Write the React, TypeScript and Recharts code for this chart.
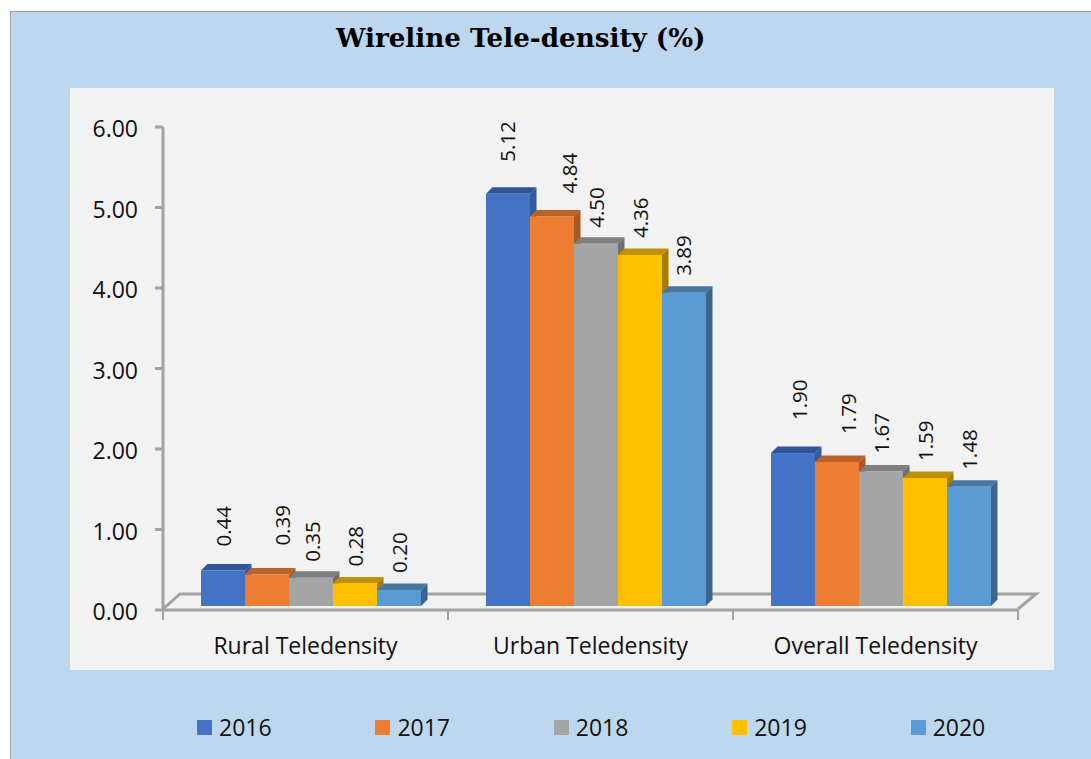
import { Bar, BarChart, LabelList, Legend, XAxis, YAxis } from "recharts";

const categories = ["Rural Teledensity", "Urban Teledensity", "Overall Teledensity"];
const years = ["2016", "2017", "2018", "2019", "2020"];
const values2016 = [0.44, 5.12, 1.9];
const values2017 = [0.39, 4.84, 1.79];
const values2018 = [0.35, 4.5, 1.67];
const values2019 = [0.28, 4.36, 1.59];
const values2020 = [0.2, 3.89, 1.48];
const yTicks = [0, 1, 2, 3, 4, 5, 6];

const seriesValues = [values2016, values2017, values2018, values2019, values2020];

const data = categories.map((name, i) => {
  const row: Record<string, string | number> = { name };
  years.forEach((year, s) => {
    row[year] = seriesValues[s][i];
  });
  return row;
});

// front, top and side faces of each bar
const faces = [
  ["#4472c4", "#2f5597", "#335a9e"],
  ["#ed7d31", "#b8622a", "#a85823"],
  ["#a5a5a5", "#7f7f7f", "#6f6f6f"],
  ["#ffc000", "#bf9000", "#a67e00"],
  ["#5b9bd5", "#4776a1", "#3c658e"],
];

// the picture's bars sit in front of the axis line, on a little floor
const SHIFT_X = 5.5;
const SHIFT_Y = -4;
const DEPTH = 6.5;
const BAND = 285;

// hand-placed data labels in the original: [across, gap above bar]
const labelNudge = [
  [[0, 24], [-1, 32], [6, 33]],
  [[15, 29], [17, 23], [11, 28]],
  [[1, 16], [0, 16], [0, 18]],
  [[0, 17], [0, 17], [0, 17]],
  [[0, 17], [-1, 17], [0, 17]],
];

const FONT = "'Open Sans', sans-serif";
const AXIS_COLOR = "#a2a2a2";

function Bar3D(props: any) {
  const { x, y, width, height, seriesIndex } = props;
  const [front, top, side] = faces[seriesIndex];
  const x0 = x + SHIFT_X;
  const y0 = y + SHIFT_Y;
  const x1 = x0 + width;
  const y1 = y0 + height;
  return (
    <g>
      <polygon
        points={`${x0},${y0} ${x0 + DEPTH},${y0 - DEPTH} ${x1 + DEPTH},${y0 - DEPTH} ${x1},${y0}`}
        fill={top}
      />
      <polygon
        points={`${x1},${y0} ${x1 + DEPTH},${y0 - DEPTH} ${x1 + DEPTH},${y1 - DEPTH} ${x1},${y1}`}
        fill={side}
      />
      <rect x={x0} y={y0} width={width} height={height} fill={front} />
    </g>
  );
}

function RotatedLabel(props: any) {
  const { x, y, width, value, index, seriesIndex } = props;
  const [across, gap] = labelNudge[seriesIndex][index];
  const cx = x + SHIFT_X + width / 2 + across;
  const bottom = y + SHIFT_Y - gap;
  return (
    <text
      x={cx}
      y={bottom}
      transform={`rotate(-90 ${cx} ${bottom})`}
      dominantBaseline="central"
      fontFamily={FONT}
      fontSize={20.5}
      fill="#111"
    >
      {Number(value).toFixed(2)}
    </text>
  );
}

// tick marks fall on the category edges, labels in the middle
function CategoryTick(props: any) {
  const { x, y, payload, index } = props;
  return (
    <g>
      <line x1={x - BAND / 2} x2={x - BAND / 2} y1={y} y2={y + 10} stroke={AXIS_COLOR} strokeWidth={2} />
      {index === categories.length - 1 && (
        <line x1={x + BAND / 2} x2={x + BAND / 2} y1={y} y2={y + 10} stroke={AXIS_COLOR} strokeWidth={2} />
      )}
      <text x={x} y={y + 35} textAnchor="middle" dominantBaseline="central" fontFamily={FONT} fontSize={23} fill="#111">
        {payload.value}
      </text>
    </g>
  );
}

function LegendRow({ payload }: any) {
  return (
    <div style={{ display: "flex" }}>
      {(payload || []).map((item: any) => (
        <div
          key={item.value}
          style={{ width: 178.5, display: "flex", alignItems: "center", fontFamily: FONT, fontSize: 23, color: "#111" }}
        >
          <span style={{ width: 15, height: 15, background: item.color, marginRight: 7 }} />
          {item.value}
        </div>
      ))}
    </div>
  );
}

export default function App() {
  return (
    <div style={{ position: "absolute", left: 0, top: 0, width: 1091, height: 759, background: "#fff", overflow: "hidden" }}>
      <div
        style={{
          position: "absolute",
          left: 10,
          top: 11,
          width: 1081,
          height: 748,
          boxSizing: "border-box",
          background: "#bdd7ee",
          borderLeft: "1px solid #a0a0a0",
          borderTop: "1px solid #a0a0a0",
        }}
      />
      <div style={{ position: "absolute", left: 70, top: 88, width: 984, height: 582, background: "#f2f2f2" }} />
      <div
        style={{
          position: "absolute",
          left: 336,
          top: 22,
          fontFamily: "'DejaVu Serif', serif",
          fontWeight: 700,
          fontSize: 26.2,
          color: "#000",
          whiteSpace: "nowrap",
        }}
      >
        Wireline Tele-density (%)
      </div>
      <BarChart
        style={{ position: "absolute", left: 0, top: 0 }}
        width={1091}
        height={759}
        data={data}
        margin={{ left: 70, right: 73, top: 127, bottom: 57 }}
        barCategoryGap={32.5}
        barGap={0}
      >
        <polyline points="163,609 180,594 1036,594 1018,609" fill="none" stroke={AXIS_COLOR} strokeWidth={3} />
        <XAxis
          dataKey="name"
          height={60}
          interval={0}
          stroke={AXIS_COLOR}
          strokeWidth={3}
          tickLine={false}
          tickSize={0}
          tickMargin={0}
          tick={<CategoryTick />}
        />
        <YAxis
          width={93}
          domain={[0, 6]}
          ticks={yTicks}
          stroke={AXIS_COLOR}
          strokeWidth={3}
          tickSize={8}
          tickMargin={17}
          tickFormatter={(v: number) => v.toFixed(2)}
          tick={{ fontFamily: FONT, fontSize: 23, fill: "#111", dy: 2 }}
        />
        <Legend
          content={<LegendRow />}
          wrapperStyle={{ left: 197, top: 711, width: 892, bottom: "auto" }}
        />
        {years.map((year, s) => (
          <Bar
            key={year}
            dataKey={year}
            fill={faces[s][0]}
            isAnimationActive={false}
            shape={(p: any) => <Bar3D {...p} seriesIndex={s} />}
          >
            <LabelList dataKey={year} content={(p: any) => <RotatedLabel {...p} seriesIndex={s} />} />
          </Bar>
        ))}
      </BarChart>
    </div>
  );
}
